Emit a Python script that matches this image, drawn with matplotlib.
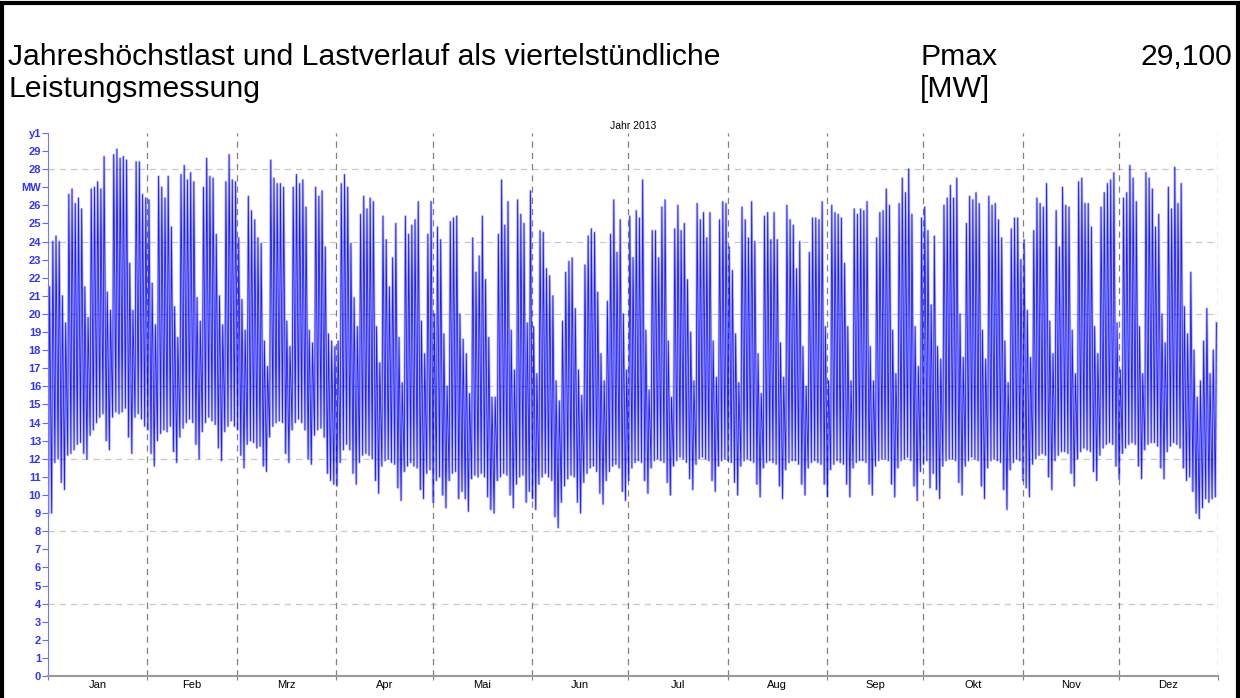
import numpy as np
import matplotlib.pyplot as plt
from matplotlib.patches import Rectangle

plt.rcParams['font.family'] = ['Liberation Sans', 'DejaVu Sans']

# Monatsnamen und Tage pro Monat (2013)
months = ['Jan', 'Feb', 'Mrz', 'Apr', 'Mai', 'Jun', 'Jul', 'Aug', 'Sep', 'Okt', 'Nov', 'Dez']
days_in_month = [31, 28, 31, 30, 31, 30, 31, 31, 30, 31, 30, 31]

# Tageshoechstwerte [MW]
peak_jan = [21.5, 24.0, 24.3, 24.0, 21.0, 19.5,
            26.6, 26.9, 26.1, 26.4, 25.8, 21.5, 19.8,
            26.9, 27.0, 27.3, 26.9, 28.7, 21.2, 20.2,
            28.8, 29.1, 28.6, 28.7, 28.5, 22.8, 20.2,
            28.4, 28.4, 26.6, 26.4]
peak_feb = [26.3, 21.7, 19.4,
            27.6, 27.0, 26.4, 27.6, 24.8, 20.4, 18.7,
            27.7, 28.2, 27.4, 27.8, 27.3, 20.9, 19.6,
            27.0, 28.6, 27.6, 27.5, 24.4, 21.0, 19.4,
            27.3, 28.8, 27.4, 27.3]
peak_mar = [24.2, 20.8, 19.1,
            26.5, 25.7, 25.2, 24.2, 23.9, 18.5, 17.1,
            28.5, 27.5, 27.2, 27.2, 27.0, 19.6, 18.2,
            27.0, 27.7, 27.2, 27.4, 25.9, 19.1, 18.4,
            27.0, 26.5, 26.8, 23.7, 18.9, 18.5, 18.2]
peak_apr = [18.5, 27.2, 27.7, 27.0, 23.9, 20.9, 19.3,
            25.5, 26.5, 25.8, 26.4, 26.2, 19.3, 17.3,
            25.4, 24.1, 21.5, 23.1, 25.0, 18.7, 16.2,
            25.4, 24.4, 24.9, 25.2, 26.2, 19.6, 17.8,
            24.4, 26.2]
peak_mai = [20.0, 24.8, 24.1, 18.9, 16.0,
            25.1, 25.3, 25.4, 20.0, 18.6, 17.8, 15.6,
            24.2, 22.3, 23.2, 25.4, 21.9, 18.7, 15.4,
            15.4, 24.4, 27.4, 24.9, 26.2, 19.1, 16.9,
            26.3, 25.5, 25.0, 19.5, 26.8]
peak_jun = [19.3, 16.7,
            24.6, 24.5, 22.5, 22.1, 21.0, 16.3, 15.2,
            19.6, 22.3, 22.9, 23.1, 20.3, 16.9, 15.5,
            22.7, 24.3, 24.7, 24.5, 21.2, 17.8, 16.3,
            20.7, 24.4, 26.3, 23.4, 25.2, 20.0, 16.9]
peak_jul = [25.4, 23.1, 25.7, 25.3, 27.4, 19.1, 15.8,
            24.6, 24.6, 23.1, 25.9, 26.3, 18.5, 15.4,
            24.7, 26.0, 24.6, 25.0, 21.9, 19.0, 16.3,
            26.1, 25.2, 25.6, 24.2, 25.6, 18.5, 16.5,
            25.2, 26.2, 26.1]
peak_aug = [23.7, 22.4, 18.9, 16.2,
            25.9, 25.2, 24.2, 26.2, 24.0, 17.8, 15.6,
            25.4, 25.6, 24.1, 25.6, 24.1, 18.4, 16.5,
            26.0, 25.2, 24.9, 22.5, 24.0, 18.2, 16.0,
            23.4, 25.3, 25.3, 25.2, 26.2, 19.3]
peak_sep = [16.3, 26.0, 25.6, 25.5, 25.3, 22.8, 19.3, 16.3,
            25.8, 25.5, 25.8, 25.7, 26.2, 18.2, 16.3,
            24.2, 25.6, 25.7, 26.9, 26.0, 19.1, 16.7,
            26.1, 27.5, 26.7, 28.0, 25.5, 19.3, 17.1,
            25.3]
peak_okt = [25.9, 24.6, 20.5, 24.3, 18.2, 17.5,
            26.0, 26.4, 27.1, 26.4, 27.5, 20.0, 17.6,
            25.0, 26.5, 26.3, 26.7, 26.1, 19.1, 17.5,
            26.5, 26.0, 26.1, 25.2, 24.2, 18.5, 16.2,
            24.7, 25.3, 25.3, 23.0]
peak_nov = [24.1, 20.2, 17.6,
            24.6, 26.4, 26.1, 25.9, 27.2, 19.6, 17.8,
            25.7, 23.7, 27.0, 26.0, 25.9, 19.1, 16.7,
            27.3, 27.5, 26.1, 26.1, 24.8, 19.3, 17.8,
            25.9, 26.7, 27.2, 27.4, 27.8, 19.5]
peak_dez = [16.9, 26.4, 26.7, 28.2, 27.5, 26.2, 19.3, 16.7,
            27.8, 27.5, 26.9, 24.8, 25.5, 20.0, 18.4,
            27.0, 25.8, 28.1, 26.1, 27.2, 20.4, 18.9,
            22.3, 18.0, 15.4, 16.3, 18.5, 20.3, 16.7, 18.0, 19.5]

# Tagestiefstwerte [MW]
low_jan = [9.0, 9.0, 11.8, 12.0, 10.7, 10.3,
           12.2, 12.3, 12.5, 12.8, 12.9, 12.3, 12.0,
           13.3, 13.6, 14.0, 14.3, 14.5, 13.0, 12.5,
           14.3, 14.6, 14.5, 14.6, 14.8, 13.2, 12.3,
           14.3, 14.5, 14.2, 13.8]
low_feb = [13.6, 12.3, 11.6,
           13.0, 13.4, 13.6, 13.5, 13.8, 12.4, 11.8,
           13.2, 13.7, 14.0, 14.2, 14.0, 12.8, 12.0,
           13.5, 14.0, 14.3, 14.1, 13.9, 12.6, 11.9,
           13.5, 13.8, 14.1, 13.8]
low_mar = [13.6, 12.2, 11.5,
           12.8, 13.0, 12.9, 12.6, 12.7, 11.6, 11.3,
           13.2, 13.8, 14.0, 14.1, 14.0, 12.3, 11.8,
           13.6, 14.0, 14.2, 14.0, 13.6, 12.0, 11.7,
           13.3, 13.6, 13.7, 13.2, 11.2, 10.8, 10.6]
low_apr = [10.5, 11.8, 12.5, 12.8, 12.5, 11.2, 10.6,
           11.8, 12.2, 12.3, 12.2, 12.0, 10.8, 10.1,
           11.6, 11.9, 12.0, 11.8, 11.7, 10.4, 9.7,
           11.3, 11.6, 11.8, 11.6, 11.5, 10.3, 9.8,
           11.2, 11.4]
low_mai = [9.6, 10.8, 11.0, 10.0, 9.3,
           10.8, 11.2, 11.3, 9.8, 10.2, 9.8, 9.1,
           10.9, 11.1, 11.0, 11.2, 11.0, 9.9, 9.2,
           9.0, 10.8, 11.0, 11.2, 11.1, 10.0, 9.3,
           10.6, 11.0, 11.1, 9.6, 10.2]
low_jun = [9.8, 9.2,
           10.6, 11.0, 11.2, 11.0, 10.8, 8.8, 8.2,
           9.6, 10.5, 10.9, 11.1, 11.0, 9.6, 9.0,
           10.7, 11.2, 11.5, 11.6, 11.3, 10.1, 9.5,
           10.8, 11.3, 11.6, 11.7, 11.5, 10.2, 9.7]
low_jul = [10.8, 11.5, 11.8, 11.9, 11.8, 10.8, 10.1,
           11.5, 11.9, 12.0, 11.9, 11.8, 10.7, 10.0,
           11.6, 11.9, 12.1, 12.0, 11.8, 10.9, 10.3,
           11.7, 12.0, 12.1, 12.0, 11.9, 10.8, 10.2,
           11.6, 11.9, 12.0]
low_aug = [11.9, 11.8, 10.7, 10.0,
           11.6, 11.9, 12.0, 11.9, 11.8, 10.6, 9.9,
           11.5, 11.8, 11.9, 11.8, 11.7, 10.5, 9.8,
           11.4, 11.8, 11.9, 11.9, 11.7, 10.6, 10.0,
           11.5, 11.8, 11.9, 11.8, 11.7, 10.6]
low_sep = [9.9, 11.4, 11.7, 11.9, 11.8, 11.7, 10.6, 9.9,
           11.5, 11.8, 11.9, 11.9, 11.8, 10.6, 10.0,
           11.6, 11.9, 12.0, 12.0, 11.9, 10.6, 9.9,
           11.5, 11.9, 12.0, 12.1, 11.9, 10.5, 9.7,
           11.3]
low_okt = [11.7, 11.9, 10.4, 11.2, 10.3, 9.8,
           11.6, 11.9, 12.0, 12.0, 11.9, 10.7, 10.0,
           11.6, 11.9, 12.1, 12.0, 11.9, 10.5, 9.8,
           11.5, 11.9, 12.0, 11.9, 11.8, 10.3, 9.2,
           11.4, 11.8, 12.0, 11.9]
low_nov = [10.8, 10.4, 9.9,
           11.7, 12.0, 12.2, 12.3, 12.2, 11.0, 10.3,
           11.9, 12.2, 12.4, 12.4, 12.3, 11.2, 10.5,
           12.0, 12.4, 12.6, 12.5, 12.4, 11.3, 10.8,
           12.2, 12.6, 12.8, 12.9, 12.8, 11.6]
low_dez = [10.9, 12.3, 12.6, 12.8, 12.9, 12.8, 11.6, 10.9,
           12.5, 12.8, 12.9, 12.9, 12.7, 11.5, 10.9,
           12.4, 12.7, 12.9, 12.8, 12.6, 11.5, 10.8,
           11.0, 10.2, 9.0, 8.7, 9.3, 9.8, 9.6, 9.8, 9.9]

peaks = np.array(peak_jan + peak_feb + peak_mar + peak_apr + peak_mai + peak_jun +
                 peak_jul + peak_aug + peak_sep + peak_okt + peak_nov + peak_dez)
lows = np.array(low_jan + low_feb + low_mar + low_apr + low_mai + low_jun +
                low_jul + low_aug + low_sep + low_okt + low_nov + low_dez)

pmax = 29.1

# Zeitachse: Nachtminimum gegen 3 Uhr, Tagesmaximum gegen Mittag
day = np.arange(len(peaks))
t = np.column_stack([day + 0.15, day + 0.5]).ravel()
p = np.column_stack([lows, peaks]).ravel()

bounds = np.concatenate([[0], np.cumsum(days_in_month)])
centers = (bounds[:-1] + bounds[1:]) / 2.0

fig = plt.figure(figsize=(12.4, 6.98), dpi=100)
ax = fig.add_axes([0.0387, 0.0315, 0.9436, 0.778])

# breite helle Spur plus duenne kraeftige Linie
ax.plot(t, p, color='#0000ff', lw=1.8, alpha=0.3)
ax.plot(t, p, color='#0000ff', lw=0.6, alpha=0.85)

ax.set_xlim(0, 365)
ax.set_ylim(0, 30)

# Gitter
for yv in range(4, 29, 4):
    ax.axhline(yv, color='#c8c8c8', lw=0.9, ls=(0, (5, 4)), zorder=0)
for xv in bounds[1:]:
    ax.axvline(xv, color='#808080', lw=0.9, ls=(0, (5, 4)), zorder=0)

# y-Achse
yticks = list(range(0, 31))
ylabels = [str(v) for v in yticks]
ylabels[27] = 'MW'
ylabels[30] = 'y1'
ax.set_yticks(yticks)
ax.set_yticklabels(ylabels, color='#3333ff', fontsize=8, fontweight='bold')
ax.tick_params(axis='y', colors='#6666ff', length=4, width=0.8, pad=1, labelcolor='#3333ff')

# x-Achse
ax.set_xticks(bounds)
ax.set_xticklabels([])
ax.set_xticks(centers, minor=True)
ax.set_xticklabels(months, minor=True, fontsize=8)
ax.tick_params(axis='x', which='major', length=3, colors='#808080')
ax.tick_params(axis='x', which='minor', length=0, pad=3, labelcolor='black')

for s in ['top', 'right']:
    ax.spines[s].set_visible(False)
ax.spines['left'].set_color('#7777ff')
ax.spines['bottom'].set_color('#999999')
ax.spines['bottom'].set_linewidth(1.5)

ax.set_title('Jahr 2013', fontsize=7.5, pad=3)

# Kopfzeile
fs = 21.7
fig.text(0.0065, 0.919, 'Jahreshöchstlast und Lastverlauf als viertelstündliche',
         fontsize=fs, va='center', ha='left')
fig.text(0.0065, 0.872, 'Leistungsmessung', fontsize=fs, va='center', ha='left')
fig.text(0.742, 0.919, 'Pmax', fontsize=fs, va='center', ha='left')
fig.text(0.742, 0.872, '[MW]', fontsize=fs, va='center', ha='left')
fig.text(0.994, 0.919, f'{pmax:.3f}'.replace('.', ','), fontsize=fs, va='center', ha='right')

# Rahmen
fig.patches.append(Rectangle((0.002, -0.01), 0.996, 1.005, transform=fig.transFigure,
                             fill=False, edgecolor='black', lw=3))

fig.savefig('out.png', dpi=100)
